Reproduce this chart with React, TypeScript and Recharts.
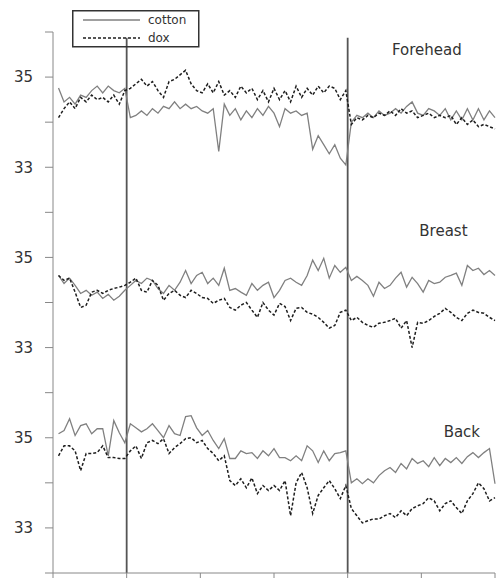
import React from 'react';
import { LineChart, Line, XAxis, YAxis, ReferenceLine, ReferenceDot, Legend } from 'recharts';

// skin temperature (°C), one reading every 1.5 time units
const foreheadCotton = [
  34.76, 34.45, 34.55, 34.4, 34.6, 34.55, 34.7, 34.8, 34.65, 34.8, 34.7, 34.65, 34.75, 34.1, 34.15, 34.25,
  34.15, 34.3, 34.2, 34.35, 34.3, 34.45, 34.3, 34.4, 34.3, 34.35, 34.25, 34.2, 34.3, 33.35, 34.4, 34.15,
  34.3, 34.05, 34.25, 34.1, 34.3, 34.15, 34.35, 34.2, 33.9, 34.3, 34.2, 34.25, 34.15, 34.2, 33.4, 33.7,
  33.5, 33.3, 33.5, 33.2, 33.05, 34.0, 34.15, 34.1, 34.2, 34.1, 34.25, 34.15, 34.2, 34.3, 34.2, 34.35,
  34.45, 34.2, 34.15, 34.3, 34.25, 34.15, 34.3, 34.05, 34.25, 34.05, 34.3, 34.05, 34.3, 34.05, 34.25, 34.1,
];
const foreheadDox = [
  34.1, 34.3, 34.45, 34.3, 34.55, 34.45, 34.6, 34.5, 34.55, 34.45, 34.6, 34.4, 34.7, 34.75, 34.85, 34.95,
  34.8, 34.9, 34.7, 34.55, 34.9, 34.95, 35.05, 35.15, 34.85, 34.7, 34.65, 34.85, 34.65, 34.9, 34.6, 34.7,
  34.55, 34.8, 34.65, 34.75, 34.5, 34.7, 34.45, 34.75, 34.5, 34.7, 34.45, 34.8, 34.55, 34.75, 34.6, 34.8,
  34.65, 34.8, 34.75, 34.5, 34.7, 33.95, 34.1, 34.05, 34.15, 34.1, 34.2, 34.15, 34.25, 34.15, 34.3, 34.2,
  34.25, 34.1, 34.15, 34.2, 34.1, 34.15, 34.1, 34.15, 33.95, 34.1, 33.95, 34.05, 33.9, 33.95, 33.9, 33.85,
];
const breastCotton = [
  34.6, 34.42, 34.54, 34.38, 34.2, 34.27, 34.16, 34.23, 34.09, 34.18, 34.05, 34.14, 34.27, 34.38, 34.49, 34.42,
  34.54, 34.49, 34.31, 34.2, 34.38, 34.27, 34.45, 34.71, 34.42, 34.6, 34.67, 34.42, 34.54, 34.38, 34.76, 34.27,
  34.31, 34.23, 34.16, 34.42, 34.27, 34.38, 34.45, 34.11, 34.27, 34.49, 34.54, 34.45, 34.38, 34.6, 34.94, 34.71,
  34.98, 34.54, 34.82, 34.67, 34.78, 34.49, 34.58, 34.49, 34.38, 34.14, 34.45, 34.31, 34.38, 34.54, 34.67, 34.34,
  34.56, 34.42, 34.23, 34.49, 34.42, 34.45, 34.56, 34.6, 34.65, 34.38, 34.82, 34.71, 34.76, 34.62, 34.71, 34.6,
];
const breastDox = [
  34.6, 34.49, 34.54, 34.23, 33.89, 33.94, 34.23, 34.27, 34.2, 34.27, 34.31, 34.34, 34.38, 34.45, 34.54, 34.27,
  34.23, 34.49, 34.38, 34.05, 34.2, 34.27, 34.16, 34.11, 34.27, 34.2, 34.11, 34.09, 33.98, 34.05, 34.09, 33.89,
  33.83, 33.94, 34.0, 33.83, 33.67, 34.0, 33.83, 33.72, 33.98, 33.91, 33.6, 33.87, 33.89, 33.78, 33.74, 33.67,
  33.56, 33.43, 33.49, 33.78, 33.83, 33.6, 33.67, 33.56, 33.49, 33.45, 33.54, 33.56, 33.6, 33.65, 33.43, 33.6,
  33.0, 33.56, 33.54, 33.6, 33.69, 33.76, 33.87, 33.78, 33.67, 33.6, 33.76, 33.83, 33.78, 33.76, 33.67, 33.6,
];
const backCotton = [
  35.09, 35.16, 35.42, 35.05, 35.27, 35.31, 35.09, 35.2, 35.2, 34.6, 35.38, 35.11, 34.89, 35.31, 35.22, 35.13,
  35.2, 35.31, 35.16, 35.0, 35.27, 35.09, 35.05, 35.47, 35.49, 35.22, 35.05, 35.16, 34.94, 34.76, 34.98, 34.54,
  34.54, 34.71, 34.65, 34.67, 34.54, 34.71, 34.6, 34.76, 34.56, 34.56, 34.49, 34.6, 34.49, 34.82, 34.71, 34.45,
  34.71, 34.49, 34.65, 34.67, 34.71, 34.0, 34.09, 33.98, 34.09, 34.0, 34.16, 34.27, 34.34, 34.23, 34.43, 34.31,
  34.54, 34.43, 34.49, 34.36, 34.56, 34.38, 34.54, 34.45, 34.56, 34.43, 34.58, 34.67, 34.56, 34.67, 34.76, 33.98,
];
const backDox = [
  34.6, 34.82, 34.82, 34.71, 34.27, 34.65, 34.65, 34.67, 34.82, 34.56, 34.56, 34.54, 34.54, 34.71, 34.82, 34.54,
  34.89, 34.94, 34.87, 34.98, 34.65, 34.78, 34.87, 34.98, 35.0, 34.89, 34.94, 34.76, 34.65, 34.49, 34.6, 34.05,
  33.94, 34.09, 33.89, 34.11, 33.76, 33.94, 33.83, 33.94, 33.83, 34.05, 33.27, 34.0, 34.23, 33.89, 33.32, 33.72,
  33.89, 34.05, 33.87, 33.65, 33.94, 33.43, 33.27, 33.11, 33.16, 33.2, 33.2, 33.27, 33.32, 33.23, 33.38, 33.27,
  33.43, 33.49, 33.54, 33.67, 33.6, 33.38, 33.54, 33.6, 33.45, 33.32, 33.6, 33.76, 34.0, 33.87, 33.6, 33.67,
];

const xTicks = [0, 20, 40, 60, 80, 100, 120];
const yTicks = [0, 1, 2, 3, 4, 5, 6, 7, 8, 9, 10, 11, 12];
const shownTemps = [33, 35];
const markers = [20, 80];

// each panel spans 4 °C (32..36) stacked on one axis: back 0-4, breast 4-8, forehead 8-12
const BACK_SHIFT = 32;
const BREAST_SHIFT = 28;
const FOREHEAD_SHIFT = 24;

const data = foreheadCotton.map((_, i) => ({
  t: 1.5 * (i + 1),
  fc: foreheadCotton[i] - FOREHEAD_SHIFT,
  fd: foreheadDox[i] - FOREHEAD_SHIFT,
  bc: breastCotton[i] - BREAST_SHIFT,
  bd: breastDox[i] - BREAST_SHIFT,
  kc: backCotton[i] - BACK_SHIFT,
  kd: backDox[i] - BACK_SHIFT,
}));

const FONT = 'DejaVu Sans, sans-serif';
const COTTON = '#808080';
const DOX = '#1e1e1e';

const yLabel = (v: number) => {
  const temp = (v % 4) + 32;
  return shownTemps.includes(temp) ? String(temp) : '';
};

const LegendBox = () => (
  <svg width={128} height={38}>
    <rect x={0.75} y={0.75} width={126} height={36} fill="none" stroke="#333" strokeWidth={1.5} />
    <line x1={11} x2={68} y1={10} y2={10} stroke={COTTON} strokeWidth={1.3} />
    <text x={76} y={14} fontSize={12} fill="#333" fontFamily={FONT}>cotton</text>
    <line x1={11} x2={68} y1={28} y2={28} stroke={DOX} strokeWidth={1.5} strokeDasharray="3 2" />
    <text x={76} y={32} fontSize={12} fill="#333" fontFamily={FONT}>dox</text>
  </svg>
);

const panelLabel = (value: string) => ({
  value,
  position: 'center' as const,
  fill: '#333',
  fontSize: 15,
  fontFamily: FONT,
});

export default function App() {
  return (
    <div style={{ position: 'absolute', left: 0, top: 0, background: '#fff' }}>
      <LineChart width={501} height={578} data={data} margin={{ top: 32, right: 6, bottom: 0, left: 0 }}>
        <XAxis
          dataKey="t"
          type="number"
          domain={[0, 120]}
          ticks={xTicks}
          tick={() => <g />}
          tickLine={{ stroke: '#888' }}
          tickSize={5}
          height={5}
          stroke="#888"
        />
        <YAxis
          type="number"
          domain={[0, 12]}
          ticks={yTicks}
          tickFormatter={yLabel}
          width={53}
          tickSize={8}
          tickMargin={12}
          stroke="#888"
          tick={{ fill: '#333', fontSize: 15, fontFamily: FONT }}
        />
        {markers.map((m) => (
          <ReferenceLine
            key={m}
            segment={[{ x: m, y: 0 }, { x: m, y: 11.87 }]}
            stroke="#555"
            strokeWidth={1.8}
          />
        ))}
        <Line dataKey="fc" stroke={COTTON} strokeWidth={1.3} dot={false} isAnimationActive={false} />
        <Line dataKey="fd" stroke={DOX} strokeWidth={1.5} strokeDasharray="3 2" dot={false} isAnimationActive={false} />
        <Line dataKey="bc" stroke={COTTON} strokeWidth={1.3} dot={false} isAnimationActive={false} />
        <Line dataKey="bd" stroke={DOX} strokeWidth={1.5} strokeDasharray="3 2" dot={false} isAnimationActive={false} />
        <Line dataKey="kc" stroke={COTTON} strokeWidth={1.3} dot={false} isAnimationActive={false} />
        <Line dataKey="kd" stroke={DOX} strokeWidth={1.5} strokeDasharray="3 2" dot={false} isAnimationActive={false} />
        <ReferenceDot x={101.5} y={11.6} r={0} fill="none" stroke="none" label={panelLabel('Forehead')} />
        <ReferenceDot x={106} y={7.6} r={0} fill="none" stroke="none" label={panelLabel('Breast')} />
        <ReferenceDot x={111} y={3.13} r={0} fill="none" stroke="none" label={panelLabel('Back')} />
        <Legend
          layout="vertical"
          align="center"
          verticalAlign="middle"
          content={() => <LegendBox />}
          wrapperStyle={{ position: 'absolute', left: 72, top: 10, width: 128, height: 38 }}
        />
      </LineChart>
    </div>
  );
}
